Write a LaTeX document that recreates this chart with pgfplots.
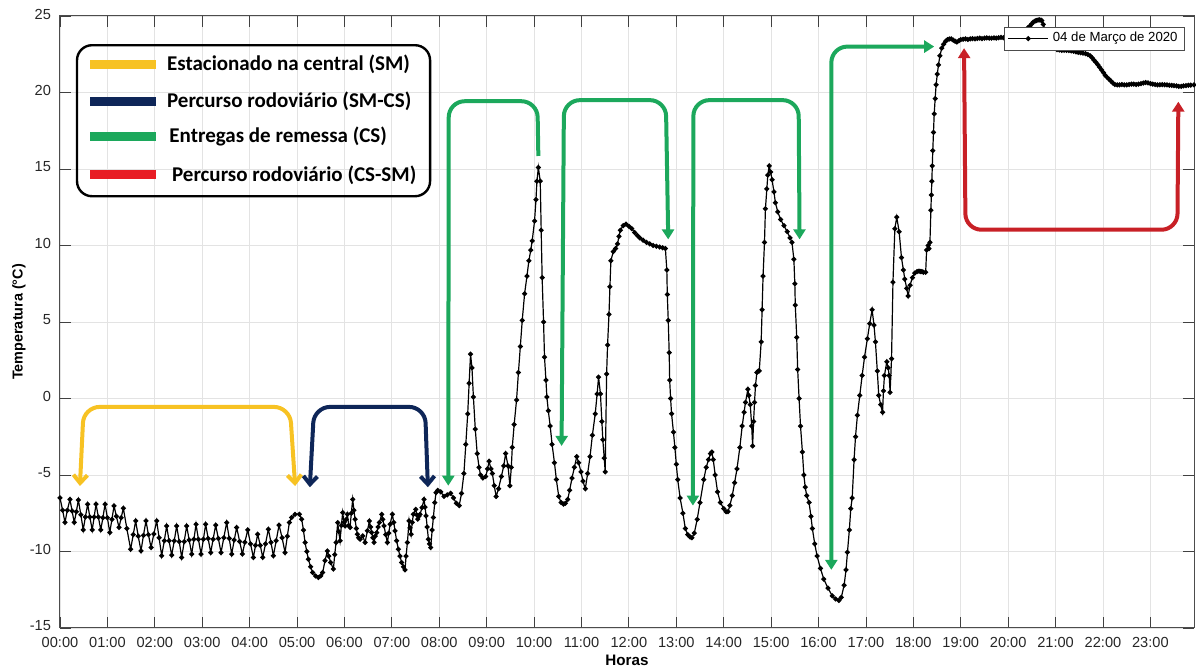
\documentclass[border=0pt]{standalone}
\usepackage{pgfplots}
\pgfplotsset{compat=1.18}
\usepackage{fontspec}
\setmainfont{Liberation Sans}
\newfontfamily\calib{Carlito}
\usetikzlibrary{arrows.meta}
\definecolor{myyellow}{RGB}{247,194,35}
\definecolor{mynavy}{RGB}{14,38,88}
\definecolor{mygreen}{RGB}{28,168,92}
\definecolor{myred}{RGB}{232,28,36}
\definecolor{myredb}{RGB}{200,32,38}
\begin{document}
\begin{tikzpicture}
\begin{axis}[
  width=567pt, height=306pt, scale only axis,
  xmin=0, xmax=23.92, ymin=-15, ymax=25,
  xtick={0,1,...,23},
  xticklabels={00:00,01:00,02:00,03:00,04:00,05:00,06:00,07:00,08:00,09:00,10:00,11:00,12:00,13:00,14:00,15:00,16:00,17:00,18:00,19:00,20:00,21:00,22:00,23:00},
  ytick={-15,-10,...,25},
  /pgf/number format/assume math mode=true,
  xtick pos=both, ytick pos=both, xticklabel pos=lower, yticklabel pos=left,
  tick align=inside, major tick length=5.5pt,
  tick style={color=black!75, line width=0.4pt},
  axis line style={color=black!70, line width=0.5pt},
  grid=major, major grid style={color=black!11, line width=0.4pt},
  ticklabel style={font=\fontsize{7.3}{8}\selectfont, text=black!85},
  xticklabel style={yshift=-1pt},
  yticklabel style={xshift=-1pt, yshift=1pt},
  xlabel={Horas}, ylabel={Temperatura (°C)},
  xlabel style={at={(axis description cs:0.5,-0.0435)}, anchor=north, inner sep=0pt, font=\fontsize{7.6}{9}\selectfont\bfseries},
  ylabel style={at={(axis description cs:-0.030,0.5)}, anchor=south, inner sep=0pt, font=\fontsize{7.2}{9}\selectfont\bfseries},
  legend style={at={(1,1)}, anchor=north east, xshift=-4.5pt, yshift=-5.5pt,
    draw=black!70, line width=0.4pt, fill=white,
    font=\fontsize{6.6}{7.5}\selectfont, inner xsep=1.5pt, inner ysep=0.5pt,
    legend cell align=left},
  legend image code/.code={\draw[mark repeat=2,mark phase=2,#1] plot coordinates {(0pt,0pt) (10pt,0pt) (20pt,0pt)};},
]
\addplot[black, line width=0.6pt, mark=*, mark size=0.95pt, mark options={fill=black}] table {
x y
0.000 -6.50
0.055 -7.30
0.105 -8.10
0.155 -7.30
0.210 -6.59
0.255 -7.35
0.300 -8.10
0.345 -7.40
0.387 -6.63
0.440 -7.60
0.490 -8.59
0.535 -7.75
0.584 -6.91
0.630 -7.75
0.680 -8.59
0.720 -7.75
0.760 -6.91
0.810 -7.75
0.860 -8.59
0.905 -7.80
0.950 -6.91
1.000 -7.80
1.050 -8.76
1.095 -7.90
1.140 -7.02
1.190 -7.70
1.245 -8.43
1.290 -7.80
1.336 -7.17
1.410 -8.50
1.490 -9.85
1.545 -8.90
1.596 -8.00
1.650 -9.00
1.709 -9.96
1.760 -8.95
1.814 -8.00
1.865 -8.90
1.920 -9.74
1.980 -8.85
2.039 -8.00
2.090 -9.10
2.145 -10.28
2.200 -9.30
2.250 -8.33
2.300 -9.30
2.356 -10.24
2.410 -9.30
2.461 -8.33
2.515 -9.35
2.567 -10.39
2.620 -9.35
2.672 -8.33
2.725 -9.25
2.778 -10.17
2.825 -9.20
2.869 -8.22
2.920 -9.20
2.975 -10.17
3.025 -9.20
3.073 -8.22
3.125 -9.15
3.179 -10.07
3.230 -9.20
3.284 -8.28
3.340 -9.15
3.397 -10.07
3.455 -9.10
3.516 -8.11
3.570 -9.15
3.622 -10.17
3.675 -9.25
3.727 -8.43
3.790 -9.35
3.847 -10.17
3.900 -9.40
3.959 -8.59
4.020 -9.50
4.079 -10.39
4.125 -9.60
4.170 -8.87
4.225 -9.60
4.276 -10.39
4.335 -9.50
4.395 -8.54
4.450 -9.40
4.501 -10.28
4.560 -9.30
4.620 -8.28
4.685 -9.10
4.747 -10.07
4.795 -9.00
4.838 -8.11
4.887 -7.78
4.958 -7.57
5.049 -7.57
5.098 -7.89
5.135 -8.60
5.169 -9.41
5.205 -10.00
5.239 -10.50
5.285 -11.00
5.330 -11.37
5.390 -11.60
5.450 -11.70
5.500 -11.60
5.541 -11.37
5.590 -10.60
5.640 -9.96
5.670 -10.30
5.710 -10.72
5.767 -11.15
5.795 -10.20
5.823 -9.41
5.858 -8.11
5.880 -8.70
5.907 -9.30
5.935 -8.30
5.963 -7.46
5.990 -8.10
6.013 -8.33
6.040 -7.90
6.062 -7.57
6.090 -8.30
6.118 -8.43
6.145 -7.50
6.174 -6.59
6.200 -7.30
6.224 -7.89
6.250 -8.50
6.273 -8.87
6.300 -9.10
6.329 -9.20
6.385 -8.98
6.435 -9.41
6.484 -8.65
6.526 -8.00
6.550 -8.40
6.575 -8.76
6.600 -9.10
6.624 -9.41
6.650 -9.00
6.681 -8.76
6.710 -8.40
6.737 -8.11
6.786 -7.57
6.810 -7.90
6.835 -8.33
6.870 -8.90
6.906 -9.41
6.935 -8.80
6.962 -8.22
7.011 -7.57
7.040 -8.10
7.068 -8.65
7.100 -9.30
7.138 -9.85
7.170 -10.30
7.208 -10.72
7.245 -11.00
7.278 -11.20
7.300 -10.30
7.328 -9.41
7.363 -8.00
7.383 -8.45
7.405 -8.87
7.430 -8.10
7.454 -7.57
7.504 -7.24
7.525 -7.60
7.546 -7.89
7.570 -7.70
7.595 -7.57
7.637 -7.13
7.679 -6.59
7.700 -7.10
7.722 -7.67
7.745 -8.40
7.771 -9.20
7.795 -9.50
7.820 -9.74
7.850 -8.60
7.876 -7.78
7.905 -6.80
7.932 -6.15
7.968 -6.00
8.03 -6.10
8.10 -6.40
8.17 -6.30
8.24 -6.20
8.30 -6.50
8.36 -6.85
8.42 -7.00
8.47 -6.20
8.52 -4.90
8.56 -3.00
8.60 -1.00
8.63 1.00
8.66 2.90
8.69 2.00
8.72 0.10
8.76 -2.00
8.80 -3.60
8.84 -4.50
8.87 -5.00
8.92 -5.20
8.98 -5.10
9.02 -4.60
9.05 -4.10
9.09 -4.60
9.12 -4.90
9.16 -5.70
9.20 -6.40
9.25 -5.90
9.31 -5.10
9.36 -4.40
9.40 -3.60
9.45 -4.40
9.49 -5.70
9.52 -4.50
9.54 -3.20
9.58 -1.70
9.63 -0.10
9.67 1.70
9.71 3.40
9.75 5.10
9.80 6.85
9.85 8.00
9.89 9.00
9.93 9.70
9.96 10.30
10.01 11.60
10.04 13.00
10.06 14.20
10.09 15.10
10.13 14.20
10.15 11.00
10.17 7.90
10.20 5.00
10.22 2.70
10.25 1.20
10.27 0.10
10.30 -0.80
10.34 -1.80
10.38 -3.00
10.43 -4.20
10.47 -5.30
10.52 -6.40
10.57 -6.80
10.62 -6.90
10.66 -6.85
10.71 -6.60
10.75 -6.00
10.80 -5.20
10.85 -4.50
10.90 -3.80
10.94 -4.20
10.99 -4.80
11.03 -5.40
11.08 -5.90
11.13 -4.90
11.18 -3.80
11.23 -2.40
11.29 -1.00
11.33 0.30
11.36 1.40
11.40 0.30
11.43 -1.50
11.45 -2.70
11.48 -3.90
11.50 -4.80
11.53 1.60
11.55 3.50
11.58 5.50
11.60 7.30
11.62 9.00
11.67 9.60
11.72 9.80
11.76 10.10
11.79 10.60
11.82 11.00
11.88 11.30
11.94 11.40
12.00 11.25
12.06 11.10
12.12 10.85
12.18 10.65
12.23 10.50
12.30 10.35
12.37 10.20
12.44 10.10
12.51 10.00
12.58 9.95
12.65 9.90
12.71 9.85
12.77 9.80
12.80 8.40
12.81 6.80
12.83 5.10
12.85 3.00
12.86 1.20
12.88 0.00
12.90 -1.00
12.94 -2.20
12.97 -3.20
13.00 -4.30
13.03 -5.30
13.08 -6.50
13.14 -7.50
13.19 -8.50
13.24 -8.90
13.29 -9.05
13.33 -9.10
13.38 -8.80
13.44 -7.90
13.50 -6.80
13.58 -5.30
13.63 -4.50
13.68 -4.00
13.72 -3.60
13.75 -3.50
13.78 -4.00
13.82 -5.00
13.87 -6.10
13.93 -6.80
14.00 -7.20
14.05 -7.40
14.09 -7.40
14.13 -7.00
14.18 -6.35
14.23 -5.50
14.28 -4.60
14.34 -3.20
14.39 -1.80
14.43 -0.90
14.46 -0.25
14.51 0.60
14.53 0.20
14.56 -0.40
14.59 -1.80
14.61 -3.10
14.63 -1.50
14.65 -0.25
14.67 0.85
14.70 1.70
14.73 1.80
14.75 1.80
14.79 3.70
14.81 5.80
14.83 8.00
14.86 10.20
14.88 12.40
14.91 13.70
14.93 14.60
14.96 15.20
14.99 14.80
15.02 14.30
15.06 13.50
15.09 12.80
15.14 12.20
15.20 11.70
15.27 11.30
15.34 10.90
15.40 10.50
15.44 10.20
15.48 9.10
15.50 7.50
15.51 6.10
15.54 4.00
15.56 1.90
15.59 0.00
15.62 -1.80
15.66 -3.50
15.69 -5.00
15.72 -5.80
15.75 -6.35
15.80 -6.80
15.84 -7.70
15.87 -8.50
15.92 -9.50
15.97 -10.30
16.04 -11.10
16.11 -11.80
16.20 -12.40
16.29 -12.90
16.36 -13.10
16.43 -13.20
16.48 -13.00
16.54 -12.20
16.58 -11.20
16.61 -10.05
16.65 -8.60
16.68 -7.20
16.71 -6.50
16.75 -4.00
16.78 -2.50
16.82 -1.10
16.87 0.20
16.92 1.50
16.97 2.70
17.03 3.90
17.08 4.90
17.13 5.80
17.17 4.80
17.20 3.70
17.24 1.80
17.27 0.20
17.31 -0.40
17.35 -0.90
17.37 0.50
17.39 1.50
17.44 2.40
17.47 2.00
17.49 1.50
17.51 0.40
17.54 2.60
17.57 7.60
17.61 11.10
17.65 11.85
17.70 10.90
17.75 9.20
17.79 8.40
17.82 7.80
17.86 7.20
17.89 6.70
17.93 7.40
17.98 7.90
18.03 8.20
18.08 8.30
18.12 8.32
18.15 8.30
18.18 8.30
18.21 8.25
18.26 8.25
18.28 9.70
18.31 10.00
18.33 9.80
18.35 10.20
18.37 12.30
18.38 13.30
18.39 14.20
18.40 15.20
18.41 16.20
18.425 17.40
18.44 18.60
18.46 19.60
18.48 20.50
18.505 21.20
18.53 21.80
18.56 22.40
18.60 22.90
18.64 23.15
18.68 23.35
18.72 23.45
18.76 23.50
18.80 23.50
18.84 23.42
18.88 23.35
18.92 23.30
18.96 23.38
19.00 23.45
19.05 23.48
19.10 23.50
19.15 23.47
19.20 23.50
19.25 23.52
19.30 23.50
19.35 23.53
19.40 23.55
19.45 23.52
19.50 23.55
19.55 23.57
19.60 23.55
19.65 23.55
19.70 23.57
19.75 23.55
19.80 23.58
19.85 23.60
19.90 23.58
19.95 23.60
20.00 23.62
20.05 23.63
20.10 23.65
20.15 23.68
20.20 23.72
20.25 23.80
20.30 23.92
20.36 24.10
20.41 24.22
20.46 24.35
20.50 24.50
20.53 24.60
20.57 24.68
20.60 24.70
20.63 24.74
20.66 24.75
20.69 24.73
20.71 24.70
20.74 24.45
20.78 24.10
20.82 23.70
20.85 23.40
20.89 23.15
20.92 23.00
20.97 22.90
21.03 22.80
21.08 22.78
21.13 22.75
21.18 22.76
21.23 22.75
21.28 22.74
21.33 22.72
21.38 22.70
21.43 22.66
21.48 22.62
21.53 22.60
21.58 22.57
21.63 22.54
21.68 22.48
21.73 22.40
21.77 22.28
21.81 22.12
21.85 21.98
21.89 21.82
21.93 21.65
21.97 21.48
22.01 21.30
22.05 21.12
22.09 20.98
22.13 20.86
22.17 20.74
22.21 20.62
22.25 20.52
22.30 20.50
22.35 20.50
22.40 20.52
22.45 20.50
22.50 20.50
22.55 20.52
22.60 20.55
22.65 20.55
22.70 20.52
22.75 20.55
22.80 20.58
22.85 20.62
22.90 20.65
22.95 20.63
23.00 20.58
23.05 20.55
23.10 20.52
23.15 20.50
23.20 20.50
23.25 20.52
23.30 20.50
23.35 20.50
23.40 20.48
23.45 20.47
23.50 20.45
23.55 20.43
23.60 20.40
23.65 20.40
23.70 20.43
23.75 20.45
23.80 20.47
23.85 20.48
23.92 20.50
};
\addlegendentry{04 de Março de 2020}
% annotation brackets
\draw[myyellow, line width=2pt, rounded corners=8pt, {Straight Barb[width=7pt,length=4pt]}-{Straight Barb[width=7pt,length=4pt]}]
  (0.42,-5.72) -- (0.50,-0.55) -- (4.85,-0.55) -- (4.96,-5.72);
\draw[mynavy, line width=2pt, rounded corners=8pt, {Straight Barb[width=7pt,length=4pt]}-{Straight Barb[width=7pt,length=4pt]}]
  (5.27,-5.80) -- (5.36,-0.55) -- (7.70,-0.55) -- (7.76,-5.80);
\draw[mygreen, line width=2pt, rounded corners=8pt, -{Triangle[width=6pt,length=5pt]}]
  (10.09,15.85) -- (10.07,19.43) -- (8.20,19.43) -- (8.19,-5.70);
\draw[mygreen, line width=2pt, rounded corners=8pt, {Triangle[width=6pt,length=5pt]}-{Triangle[width=6pt,length=5pt]}]
  (10.58,-3.10) -- (10.63,19.50) -- (12.78,19.50) -- (12.83,10.40);
\draw[mygreen, line width=2pt, rounded corners=8pt, {Triangle[width=6pt,length=5pt]}-{Triangle[width=6pt,length=5pt]}]
  (13.35,-7.00) -- (13.36,19.50) -- (15.58,19.50) -- (15.60,10.40);
\draw[mygreen, line width=2pt, rounded corners=8pt, {Triangle[width=6pt,length=5pt]}-{Triangle[width=6pt,length=5pt]}]
  (16.27,-11.20) -- (16.27,23.00) -- (18.44,23.00);
\draw[myredb, line width=2pt, rounded corners=8pt, {Triangle[width=6pt,length=5pt]}-{Triangle[width=6pt,length=5pt]}]
  (19.07,22.90) -- (19.10,11.03) -- (23.57,11.03) -- (23.59,19.40);
% annotation key box
\draw[black, line width=1.2pt, rounded corners=7.5pt] (0.359,13.22) rectangle (7.806,23.09);
\draw[myyellow, line width=4.5pt] (0.633,21.84) -- (2.025,21.84);
\draw[mynavy, line width=4.5pt] (0.633,19.41) -- (2.025,19.41);
\draw[mygreen, line width=4.5pt] (0.633,17.11) -- (2.025,17.11);
\draw[myred, line width=4.5pt] (0.633,14.61) -- (2.025,14.61);
\node[anchor=west, inner sep=0pt, font=\calib\bfseries\fontsize{10.5}{12}\selectfont] at (2.251,21.84) {Estacionado na central (SM)};
\node[anchor=west, inner sep=0pt, font=\calib\bfseries\fontsize{10.5}{12}\selectfont] at (2.251,19.41) {Percurso rodoviário (SM-CS)};
\node[anchor=west, inner sep=0pt, font=\calib\bfseries\fontsize{10.5}{12}\selectfont] at (2.300,17.11) {Entregas de remessa (CS)};
\node[anchor=west, inner sep=0pt, font=\calib\bfseries\fontsize{10.5}{12}\selectfont] at (2.357,14.61) {Percurso rodoviário (CS-SM)};
\end{axis}
\pgfresetboundingbox
\path (-30pt,-20.5pt) rectangle (568pt,314pt);
\end{tikzpicture}
\end{document}
